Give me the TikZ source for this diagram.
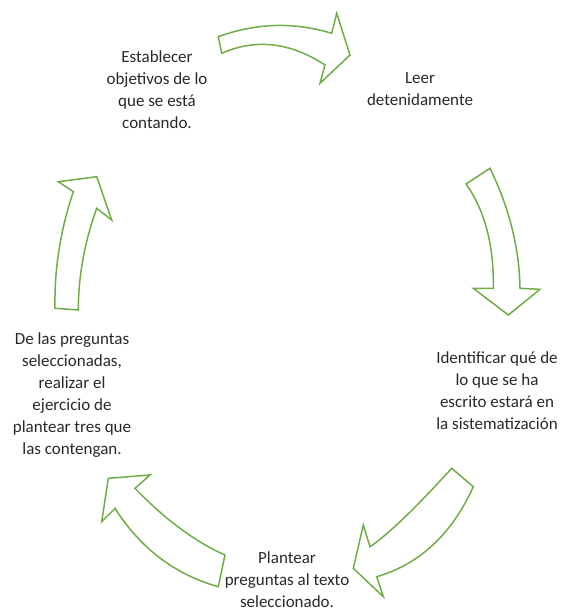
\documentclass[tikz,border=0pt]{standalone}
\usepackage{fontspec}
\setmainfont{Carlito}
\definecolor{verde}{RGB}{112,173,71}
\definecolor{texto}{RGB}{40,40,40}

\begin{document}
\begin{tikzpicture}[x=1pt,y=-1pt,
		paso/.style={align=center,inner sep=0pt,text=texto,font=\fontsize{17}{22}\selectfont},
		flecha/.style={draw=verde,fill=white,line width=1.5pt,line join=miter}]
		\useasboundingbox (0,0) rectangle (563,614);
		
		\node[paso] (establecer) at (157,90) {Establecer\\objetivos de lo\\que se está\\contando.};
		\node[paso] (leer) at (420,89) {Leer\\detenidamente};
		\node[paso] (identificar) at (497,391) {Identificar qué de\\lo que se ha\\escrito estará en\\la sistematización};
		\node[paso] (plantear) at (287,580) {Plantear\\preguntas al texto\\seleccionado.};
		\node[paso] (preguntas) at (72,395) {De las preguntas\\seleccionadas,\\realizar el\\ejercicio de\\plantear tres que\\las contengan.};
		
		% flechas del ciclo
		\draw[flecha] (218.3,36.7) .. controls (256.1,22.9) and (293.9,21.8) .. (331.7,33.3) -- (336.7,13.3) -- (350,55) -- (320,83.3) -- (325,65) .. controls (290.1,42.2) and (255.7,38.3) .. (221.7,53.3) -- cycle;
		\draw[flecha] (490,168.3) .. controls (509.3,207.9) and (519.3,247.9) .. (520,288.3) -- (540,289.3) -- (508.3,315) -- (473.3,288.3) -- (493.3,288.3) .. controls (494,245.3) and (484.9,210.5) .. (466,184) -- cycle;
		\draw[flecha] (473.3,486.7) .. controls (451.8,534.2) and (419.6,564.2) .. (376.7,576.7) -- (383.3,596.7) -- (353.3,568.3) -- (363.3,525) -- (370,546.7) .. controls (388,534.6) and (415.2,508.4) .. (451.7,468.3) -- cycle;
		\draw[flecha] (225,555) .. controls (195,541.7) and (165,519.4) .. (135,488.3) -- (150,475) -- (108.3,478.3) -- (101.7,521.7) -- (115,508.3) .. controls (140.5,548.4) and (175,574.6) .. (218.3,586.7) -- cycle;
		\draw[flecha] (78.3,310) .. controls (78.4,275.9) and (84.6,242) .. (96.7,208.3) -- (111.7,220) -- (96.7,176.7) -- (58.3,181.7) -- (73.3,191.7) .. controls (60.3,230.6) and (54.2,269.4) .. (55,308.3) -- cycle;
\end{tikzpicture}
\end{document}
